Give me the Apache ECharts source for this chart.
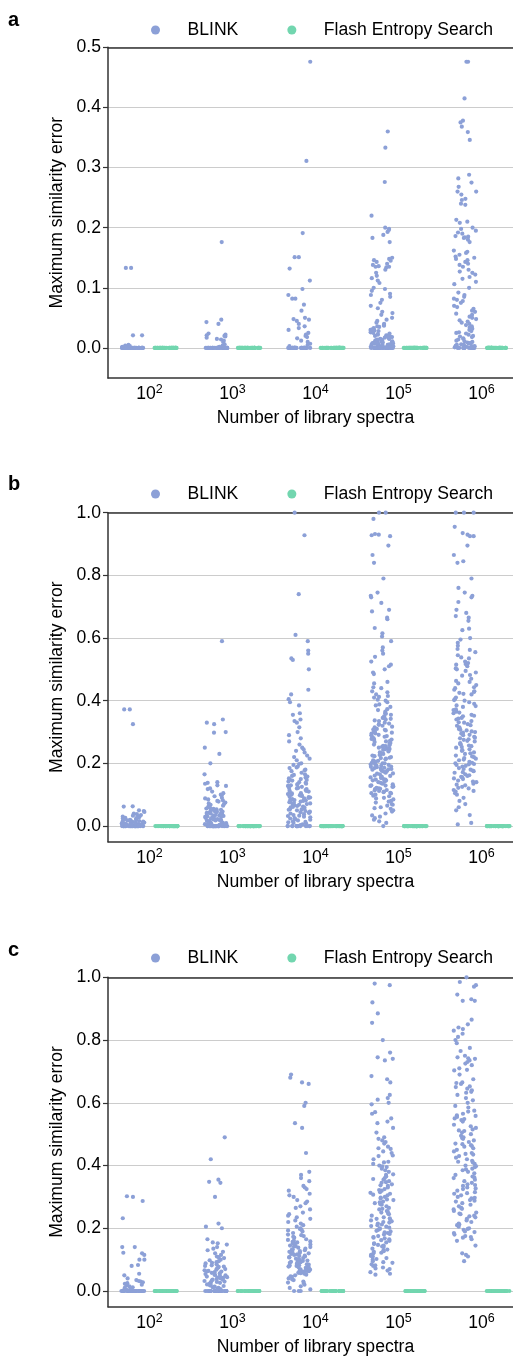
<!DOCTYPE html>
<html>
<head>
<meta charset="utf-8">
<script src="https://cdn.jsdelivr.net/npm/echarts@6.0.0/dist/echarts.min.js"></script>
<style>
html, body { margin: 0; padding: 0; background: #fff; }
#main { width: 513px; height: 1357px; }
</style>
</head>
<body>
<div id="main"></div>
<script>
// categories (library size) and y tick values
var categories = ['10^2', '10^3', '10^4', '10^5', '10^6'];
var ticksA = [0, 0.1, 0.2, 0.3, 0.4, 0.5];
var ticksBC = [0, 0.2, 0.4, 0.6, 0.8, 1.0];

// runs of exact zeros (the solid bars on the 0 line)
var z15 = [0,0,0,0,0,0,0,0,0,0,0,0,0,0,0];
var z30 = [0,0,0,0,0,0,0,0,0,0,0,0,0,0,0,0,0,0,0,0,0,0,0,0,0,0,0,0,0,0];
var z35 = [0,0,0,0,0,0,0,0,0,0,0,0,0,0,0,0,0,0,0,0,0,0,0,0,0,0,0,0,0,0,0,0,0,0,0];

// panel a - BLINK, one list per library size
var blinkA2 = z30.concat([0.133, 0.133, 0.021, 0.021, 0.005, 0.004, 0.003, 0.002]);
var blinkA3 = z30.concat([0.176, 0.047, 0.043, 0.040, 0.024, 0.022, 0.021, 0.020, 0.019, 0.017, 0.015, 0.014, 0.012, 0.010, 0.006, 0.004, 0.002]);
var blinkA4 = z30.concat([0.476, 0.311, 0.191, 0.151, 0.151, 0.132, 0.112, 0.098, 0.088, 0.082, 0.082, 0.072, 0.062, 0.050, 0.048, 0.047,
  0.045, 0.040, 0.036, 0.033, 0.030, 0.025, 0.022, 0.020, 0.018, 0.016, 0.012, 0.010, 0.007, 0.005, 0.003]);
var blinkA5 = z30.concat([0.360, 0.333, 0.276, 0.220, 0.200, 0.198, 0.196, 0.193, 0.188, 0.183, 0.176, 0.150, 0.148, 0.146, 0.145, 0.143,
  0.140, 0.138, 0.136, 0.135, 0.135, 0.134, 0.130, 0.125, 0.120, 0.116, 0.112, 0.108, 0.100, 0.098, 0.095, 0.090, 0.088, 0.085,
  0.080, 0.075, 0.070, 0.066, 0.060, 0.058, 0.055, 0.050, 0.047, 0.045, 0.042, 0.040, 0.038, 0.037, 0.035, 0.033, 0.032, 0.030,
  0.030, 0.028, 0.026, 0.025, 0.024, 0.022, 0.021, 0.020, 0.020, 0.019, 0.018, 0.017, 0.016, 0.015, 0.015, 0.014, 0.013, 0.012,
  0.012, 0.011, 0.010, 0.010, 0.009, 0.009, 0.008, 0.008, 0.007, 0.007, 0.006, 0.006, 0.005, 0.005, 0.005, 0.004, 0.004, 0.004,
  0.003, 0.003, 0.003, 0.002, 0.002, 0.002, 0.001, 0.001, 0.001, 0.036, 0.029, 0.023, 0.018, 0.014, 0.011, 0.008, 0.006, 0.004]);
var blinkA6 = z15.concat([0.476, 0.476, 0.415, 0.378, 0.375, 0.368, 0.359, 0.346, 0.288, 0.282, 0.275, 0.268, 0.260, 0.260, 0.255, 0.248,
  0.246, 0.240, 0.238, 0.213, 0.210, 0.208, 0.200, 0.198, 0.195, 0.192, 0.190, 0.186, 0.185, 0.184, 0.183, 0.180, 0.176, 0.162,
  0.160, 0.158, 0.155, 0.152, 0.150, 0.148, 0.146, 0.143, 0.140, 0.138, 0.135, 0.130, 0.127, 0.125, 0.122, 0.118, 0.115, 0.110,
  0.106, 0.100, 0.092, 0.088, 0.085, 0.082, 0.080, 0.078, 0.075, 0.070, 0.068, 0.065, 0.062, 0.060, 0.057, 0.055, 0.052, 0.050,
  0.048, 0.046, 0.044, 0.042, 0.040, 0.038, 0.036, 0.034, 0.032, 0.030, 0.028, 0.026, 0.025, 0.024, 0.022, 0.020, 0.019, 0.018,
  0.016, 0.015, 0.014, 0.012, 0.011, 0.010, 0.009, 0.008, 0.008, 0.007, 0.006, 0.005, 0.005, 0.004, 0.003, 0.003, 0.002, 0.002, 0.001]);

// panel b - BLINK
var blinkB2 = z30.concat([0.372, 0.372, 0.325, 0.063, 0.062, 0.050, 0.048, 0.045, 0.040, 0.038, 0.035, 0.033, 0.030, 0.030, 0.028, 0.026,
  0.025, 0.024, 0.022, 0.020, 0.020, 0.019, 0.018, 0.017, 0.016, 0.015, 0.014, 0.013, 0.012, 0.011, 0.010, 0.010, 0.009, 0.008,
  0.008, 0.007, 0.006, 0.006, 0.005, 0.005, 0.004, 0.004, 0.003, 0.003, 0.002, 0.002, 0.001]);
var blinkB3 = z30.concat([0.590, 0.340, 0.330, 0.325, 0.300, 0.298, 0.250, 0.230, 0.200, 0.165, 0.140, 0.138, 0.135, 0.130, 0.128, 0.120,
  0.118, 0.110, 0.105, 0.100, 0.098, 0.095, 0.090, 0.088, 0.085, 0.082, 0.080, 0.078, 0.075, 0.072, 0.070, 0.068, 0.065, 0.062,
  0.060, 0.058, 0.056, 0.055, 0.053, 0.052, 0.050, 0.049, 0.048, 0.047, 0.046, 0.045, 0.044, 0.043, 0.042, 0.041, 0.040, 0.039,
  0.038, 0.037, 0.036, 0.035, 0.034, 0.033, 0.032, 0.031, 0.030, 0.029, 0.028, 0.027, 0.026, 0.025, 0.024, 0.022, 0.021, 0.020,
  0.019, 0.018, 0.017, 0.016, 0.015, 0.014, 0.013, 0.012, 0.011, 0.010, 0.009, 0.008, 0.007, 0.006, 0.005, 0.004, 0.003, 0.002]);
var blinkB4 = z15.concat([1.000, 0.928, 0.740, 0.610, 0.590, 0.560, 0.550, 0.535, 0.530, 0.500, 0.435, 0.420, 0.405, 0.395, 0.385, 0.360,
  0.355, 0.340, 0.335, 0.330, 0.315, 0.300, 0.290, 0.280, 0.270, 0.260, 0.250, 0.245, 0.240, 0.235, 0.225, 0.220, 0.215, 0.210,
  0.200, 0.198, 0.195, 0.190, 0.185, 0.180, 0.178, 0.175, 0.170, 0.165, 0.160, 0.158, 0.155, 0.152, 0.150, 0.148, 0.145, 0.142,
  0.140, 0.138, 0.135, 0.132, 0.130, 0.128, 0.125, 0.122, 0.120, 0.118, 0.115, 0.112, 0.110, 0.108, 0.105, 0.102, 0.100, 0.098,
  0.096, 0.094, 0.092, 0.090, 0.088, 0.086, 0.084, 0.082, 0.080, 0.078, 0.076, 0.074, 0.072, 0.070, 0.068, 0.066, 0.064, 0.062,
  0.060, 0.058, 0.056, 0.054, 0.052, 0.050, 0.048, 0.046, 0.044, 0.042, 0.040, 0.038, 0.035, 0.032, 0.030, 0.028, 0.025, 0.022,
  0.020, 0.018, 0.015, 0.012, 0.010, 0.008, 0.005, 0.003,
  0.187, 0.163, 0.147, 0.134, 0.121, 0.113, 0.104, 0.097, 0.091, 0.083, 0.077, 0.069, 0.061, 0.053, 0.043, 0.033, 0.024, 0.013]);
var blinkB5 = [1.000, 1.000, 0.980, 0.932, 0.930, 0.928, 0.925, 0.895, 0.865, 0.840, 0.790, 0.745, 0.735, 0.730, 0.712, 0.690,
  0.685, 0.665, 0.660, 0.632, 0.615, 0.605, 0.590, 0.570, 0.560, 0.550, 0.540, 0.525, 0.515, 0.510, 0.500, 0.490, 0.485, 0.460,
  0.455, 0.440, 0.430, 0.420, 0.415, 0.410, 0.400, 0.395, 0.385, 0.380, 0.370, 0.365, 0.360, 0.355, 0.350, 0.345, 0.340, 0.335,
  0.330, 0.325, 0.320, 0.315, 0.310, 0.305, 0.300, 0.298, 0.295, 0.290, 0.285, 0.280, 0.278, 0.275, 0.270, 0.265, 0.260, 0.258,
  0.255, 0.250, 0.248, 0.245, 0.240, 0.235, 0.230, 0.228, 0.225, 0.220, 0.218, 0.215, 0.210, 0.205, 0.200, 0.200, 0.198, 0.195,
  0.192, 0.190, 0.188, 0.185, 0.182, 0.180, 0.178, 0.175, 0.170, 0.165, 0.160, 0.158, 0.155, 0.150, 0.148, 0.145, 0.140, 0.135,
  0.130, 0.128, 0.125, 0.120, 0.118, 0.115, 0.110, 0.108, 0.105, 0.100, 0.095, 0.090, 0.085, 0.080, 0.075, 0.070, 0.065, 0.060,
  0.055, 0.050, 0.040, 0.030, 0.025, 0.020, 0.015, 0.010, 0.000,
  0.443, 0.427, 0.412, 0.403, 0.388, 0.373, 0.358, 0.343, 0.337, 0.323, 0.308, 0.302, 0.291, 0.283, 0.272, 0.263, 0.253, 0.243,
  0.233, 0.223, 0.213, 0.206, 0.196, 0.189, 0.186, 0.181, 0.172, 0.167, 0.161, 0.153, 0.146, 0.141, 0.133, 0.126, 0.119, 0.112,
  0.104, 0.097, 0.088, 0.078, 0.068, 0.057, 0.046, 0.034, 0.342, 0.327, 0.317, 0.307, 0.296, 0.287, 0.276, 0.268, 0.256, 0.246,
  0.238, 0.227, 0.217, 0.208, 0.202, 0.193, 0.183, 0.176, 0.168, 0.157, 0.148, 0.138, 0.129, 0.122, 0.114, 0.106];
var blinkB6 = [1.000, 1.000, 1.000, 0.955, 0.935, 0.930, 0.925, 0.925, 0.895, 0.865, 0.845, 0.840, 0.790, 0.760, 0.745, 0.735,
  0.730, 0.715, 0.690, 0.680, 0.670, 0.665, 0.655, 0.630, 0.625, 0.600, 0.595, 0.585, 0.575, 0.565, 0.555, 0.545, 0.535, 0.525,
  0.520, 0.515, 0.510, 0.500, 0.495, 0.490, 0.480, 0.470, 0.460, 0.455, 0.450, 0.440, 0.435, 0.430, 0.425, 0.420, 0.410, 0.405,
  0.400, 0.395, 0.390, 0.385, 0.380, 0.370, 0.365, 0.360, 0.355, 0.350, 0.345, 0.340, 0.335, 0.330, 0.325, 0.320, 0.315, 0.310,
  0.305, 0.300, 0.298, 0.295, 0.290, 0.285, 0.280, 0.275, 0.270, 0.265, 0.260, 0.255, 0.250, 0.245, 0.240, 0.235, 0.230, 0.225,
  0.220, 0.215, 0.210, 0.205, 0.200, 0.198, 0.195, 0.190, 0.185, 0.180, 0.175, 0.170, 0.165, 0.160, 0.155, 0.150, 0.145, 0.140,
  0.135, 0.130, 0.125, 0.120, 0.115, 0.110, 0.105, 0.100, 0.090, 0.080, 0.070, 0.060, 0.050, 0.035, 0.010, 0.005,
  0.562, 0.538, 0.517, 0.503, 0.482, 0.463, 0.443, 0.422, 0.402, 0.383, 0.362, 0.343, 0.331, 0.322, 0.312, 0.302, 0.291, 0.282,
  0.272, 0.262, 0.252, 0.242, 0.232, 0.222, 0.212, 0.202, 0.192, 0.182, 0.172, 0.162, 0.152, 0.142, 0.132, 0.122, 0.112, 0.428,
  0.372, 0.352, 0.307, 0.277, 0.257, 0.217, 0.197, 0.177, 0.157];

// panel c - BLINK
var blinkC2 = z30.concat([0.302, 0.300, 0.287, 0.232, 0.140, 0.140, 0.122, 0.120, 0.115, 0.100, 0.100, 0.083, 0.080, 0.055, 0.050, 0.040,
  0.035, 0.032, 0.030, 0.028, 0.025, 0.023, 0.020, 0.018, 0.015, 0.012, 0.010, 0.008, 0.005, 0.003]);
var blinkC3 = z30.concat([0.490, 0.420, 0.355, 0.348, 0.345, 0.300, 0.215, 0.205, 0.200, 0.165, 0.155, 0.152, 0.148, 0.140, 0.135, 0.130,
  0.125, 0.120, 0.115, 0.110, 0.108, 0.105, 0.100, 0.098, 0.095, 0.092, 0.090, 0.088, 0.085, 0.082, 0.080, 0.078, 0.075, 0.072,
  0.070, 0.068, 0.066, 0.064, 0.062, 0.060, 0.058, 0.056, 0.054, 0.052, 0.050, 0.048, 0.046, 0.044, 0.042, 0.040, 0.038, 0.036,
  0.034, 0.032, 0.030, 0.028, 0.026, 0.024, 0.022, 0.020, 0.018, 0.016, 0.014, 0.012, 0.010, 0.008, 0.006, 0.004, 0.002,
  0.077, 0.063, 0.051, 0.043, 0.037, 0.029, 0.021, 0.013]);
var blinkC4 = [0.690, 0.680, 0.665, 0.660, 0.600, 0.590, 0.535, 0.520, 0.440, 0.380, 0.370, 0.360, 0.350, 0.335, 0.330, 0.325,
  0.320, 0.310, 0.305, 0.300, 0.290, 0.285, 0.280, 0.270, 0.265, 0.260, 0.250, 0.245, 0.240, 0.235, 0.230, 0.225, 0.220, 0.215,
  0.210, 0.205, 0.200, 0.198, 0.195, 0.190, 0.185, 0.180, 0.178, 0.175, 0.170, 0.165, 0.160, 0.158, 0.155, 0.152, 0.150, 0.148,
  0.145, 0.142, 0.140, 0.138, 0.135, 0.132, 0.130, 0.128, 0.125, 0.122, 0.120, 0.118, 0.115, 0.112, 0.110, 0.108, 0.105, 0.102,
  0.100, 0.098, 0.096, 0.094, 0.092, 0.090, 0.088, 0.086, 0.084, 0.082, 0.080, 0.078, 0.076, 0.074, 0.072, 0.070, 0.068, 0.066,
  0.064, 0.062, 0.060, 0.058, 0.055, 0.052, 0.050, 0.045, 0.040, 0.035, 0.030, 0.025, 0.020, 0.015, 0.010, 0.005, 0.000, 0.000, 0.000,
  0.193, 0.173, 0.157, 0.143, 0.133, 0.123, 0.113, 0.103, 0.093, 0.087, 0.081, 0.075, 0.069, 0.063, 0.057, 0.047, 0.037, 0.027,
  0.163, 0.127, 0.117, 0.107, 0.097, 0.091, 0.085, 0.079];
var blinkC5 = [0.980, 0.975, 0.920, 0.885, 0.855, 0.800, 0.760, 0.745, 0.740, 0.735, 0.685, 0.675, 0.665, 0.625, 0.615, 0.610,
  0.600, 0.595, 0.570, 0.565, 0.550, 0.540, 0.535, 0.520, 0.505, 0.490, 0.485, 0.480, 0.475, 0.470, 0.460, 0.455, 0.445, 0.440,
  0.430, 0.420, 0.410, 0.405, 0.400, 0.395, 0.390, 0.385, 0.380, 0.370, 0.365, 0.360, 0.355, 0.350, 0.345, 0.340, 0.335, 0.330,
  0.325, 0.320, 0.315, 0.310, 0.305, 0.300, 0.298, 0.295, 0.290, 0.285, 0.280, 0.275, 0.270, 0.265, 0.260, 0.255, 0.250, 0.245,
  0.240, 0.235, 0.230, 0.225, 0.220, 0.218, 0.215, 0.210, 0.205, 0.200, 0.198, 0.195, 0.190, 0.185, 0.180, 0.175, 0.170, 0.165,
  0.160, 0.155, 0.150, 0.145, 0.140, 0.135, 0.130, 0.125, 0.120, 0.115, 0.110, 0.105, 0.100, 0.095, 0.090, 0.085, 0.080, 0.075,
  0.070, 0.065, 0.060, 0.055, 0.052,
  0.453, 0.432, 0.412, 0.397, 0.372, 0.357, 0.337, 0.322, 0.307, 0.292, 0.277, 0.262, 0.247, 0.232, 0.222, 0.212, 0.202, 0.192,
  0.182, 0.172, 0.162, 0.152, 0.142, 0.132, 0.122, 0.112, 0.102, 0.092, 0.082, 0.072, 0.347, 0.313, 0.283, 0.253, 0.227, 0.207,
  0.187, 0.168, 0.147, 0.127];
var blinkC6 = [1.000, 0.985, 0.975, 0.970, 0.945, 0.930, 0.925, 0.925, 0.865, 0.850, 0.840, 0.835, 0.830, 0.820, 0.810, 0.800,
  0.790, 0.775, 0.765, 0.750, 0.745, 0.740, 0.735, 0.730, 0.725, 0.720, 0.710, 0.705, 0.690, 0.675, 0.665, 0.660, 0.650, 0.645,
  0.640, 0.635, 0.625, 0.615, 0.600, 0.590, 0.585, 0.575, 0.565, 0.560, 0.555, 0.550, 0.545, 0.540, 0.530, 0.525, 0.520, 0.515,
  0.510, 0.505, 0.500, 0.495, 0.490, 0.485, 0.480, 0.475, 0.470, 0.465, 0.460, 0.455, 0.450, 0.445, 0.440, 0.435, 0.430, 0.425,
  0.420, 0.415, 0.410, 0.405, 0.400, 0.395, 0.390, 0.385, 0.380, 0.375, 0.370, 0.365, 0.360, 0.355, 0.350, 0.345, 0.340, 0.335,
  0.330, 0.325, 0.320, 0.315, 0.310, 0.305, 0.300, 0.295, 0.290, 0.285, 0.280, 0.275, 0.270, 0.265, 0.260, 0.255, 0.250, 0.245,
  0.240, 0.235, 0.230, 0.225, 0.220, 0.215, 0.210, 0.205, 0.200, 0.195, 0.190, 0.185, 0.180, 0.175, 0.170, 0.165, 0.160, 0.145,
  0.120, 0.115, 0.110, 0.095,
  0.742, 0.703, 0.663, 0.632, 0.608, 0.572, 0.548, 0.512, 0.488, 0.462, 0.437, 0.412, 0.388, 0.362, 0.338, 0.312, 0.288, 0.262,
  0.238, 0.212, 0.188, 0.172, 0.652, 0.558, 0.468, 0.398, 0.327, 0.297, 0.247, 0.198];

// Flash Entropy Search: error is exactly 0 everywhere
var flashA = [z35, z35, z35, z35, z35];
var flashB = [z35, z35, z35, z35, z35];
var flashC = [z35, z35, z35, z35, z35];

var blinkA = [blinkA2, blinkA3, blinkA4, blinkA5, blinkA6];
var blinkB = [blinkB2, blinkB3, blinkB4, blinkB5, blinkB6];
var blinkC = [blinkC2, blinkC3, blinkC4, blinkC5, blinkC6];

var FONT = '"Liberation Sans", Arial, Helvetica, sans-serif';
var BLINK_COLOR = '#8ca0d7';
var FLASH_COLOR = '#72d6af';
var DODGE = 16.6;   // hue offset inside a category (0.2 of band)
var JITTER = 23;

var panels = [
  { label: 'a', top: 47.3, height: 330.7, ticks: ticksA, blink: blinkA, flash: flashA, legendTop: 21, labelY: 20 },
  { label: 'b', top: 512.7, height: 329, ticks: ticksBC, blink: blinkB, flash: flashB, legendTop: 485, labelY: 484 },
  { label: 'c', top: 977.3, height: 329.4, ticks: ticksBC, blink: blinkC, flash: flashC, legendTop: 949, labelY: 950 }
];

function toPoints(groups) {
  var out = [];
  groups.forEach(function (g, i) {
    g.forEach(function (v) { out.push([i, v]); });
  });
  return out;
}

var chart = echarts.init(document.getElementById('main'), null, { renderer: 'canvas' });

var grid = [], xAxis = [], yAxis = [], series = [], legend = [], graphic = [];

panels.forEach(function (p) {
  var gi = grid.length;
  var yMax = p.ticks[p.ticks.length - 1];
  [0, -DODGE, DODGE].forEach(function (shift) {
    grid.push({ left: 108 + shift, top: p.top, width: 415, height: p.height, containLabel: false, outerBoundsMode: 'none' });
  });

  // visible axes
  xAxis.push({
    gridIndex: gi, type: 'category', data: categories, position: 'bottom',
    axisLine: { onZero: false, lineStyle: { color: '#333', width: 1.5 } },
    axisTick: { alignWithLabel: true, length: 5, lineStyle: { color: '#333', width: 1.2 } },
    axisLabel: {
      margin: 5, color: '#000',
      formatter: function (v) { return '{b|10}{s|' + v.split('^')[1] + '}'; },
      rich: {
        b: { fontSize: 17.6, fontFamily: FONT, color: '#000' },
        s: { fontSize: 12.5, fontFamily: FONT, color: '#000', padding: [0, 0, 10, 0] }
      }
    },
    splitLine: { show: false },
    name: 'Number of library spectra', nameLocation: 'middle', nameGap: 31,
    nameTextStyle: { fontSize: 17.6, fontFamily: FONT, color: '#000' }
  });
  xAxis.push({
    gridIndex: gi, type: 'category', data: categories, position: 'top',
    axisLine: { onZero: false, lineStyle: { color: '#333', width: 1.5 } },
    axisTick: { show: false }, axisLabel: { show: false }, splitLine: { show: false }
  });
  // hidden, dodged axes that carry the jittered points
  xAxis.push({ gridIndex: gi + 1, type: 'category', data: categories, show: false, jitter: JITTER });
  xAxis.push({ gridIndex: gi + 2, type: 'category', data: categories, show: false, jitter: JITTER });

  yAxis.push({
    gridIndex: gi, type: 'value', min: -0.05, max: yMax, splitNumber: 5,
    axisLine: { show: true, onZero: false, lineStyle: { color: '#333', width: 1.5 } },
    axisTick: { show: true, length: 5, customValues: p.ticks, lineStyle: { color: '#333', width: 1.2 } },
    axisLabel: {
      customValues: p.ticks, margin: 7, fontSize: 17.6, fontFamily: FONT, color: '#000',
      formatter: function (v) { return v.toFixed(1); }
    },
    splitLine: { show: true, lineStyle: { color: '#cccccc', width: 1.2 } },
    name: 'Maximum similarity error', nameLocation: 'middle', nameGap: 41,
    nameTextStyle: { fontSize: 17.6, fontFamily: FONT, color: '#000' }
  });
  yAxis.push({ gridIndex: gi + 1, type: 'value', min: -0.05, max: yMax, show: false, splitLine: { show: false } });
  yAxis.push({ gridIndex: gi + 2, type: 'value', min: -0.05, max: yMax, show: false, splitLine: { show: false } });

  var xi = xAxis.length - 4, yi = yAxis.length - 3;
  series.push({
    name: 'BLINK', type: 'scatter', xAxisIndex: xi + 2, yAxisIndex: yi + 1,
    data: toPoints(p.blink), symbol: 'circle', symbolSize: 4.2,
    itemStyle: { color: BLINK_COLOR, opacity: 1 }, silent: true, z: 3
  });
  series.push({
    name: 'Flash Entropy Search', type: 'scatter', xAxisIndex: xi + 3, yAxisIndex: yi + 2,
    data: toPoints(p.flash), symbol: 'circle', symbolSize: 4.2,
    itemStyle: { color: FLASH_COLOR, opacity: 1 }, silent: true, z: 3
  });

  legend.push({
    top: p.legendTop, left: 151, padding: 0, itemGap: 49, icon: 'circle',
    itemWidth: 54, itemHeight: 9, selectedMode: false,
    data: ['BLINK', 'Flash Entropy Search'],
    textStyle: { fontSize: 17.6, fontFamily: FONT, color: '#000', padding: [0, 0, 0, 0] }
  });

  graphic.push({
    type: 'text', x: 8, y: p.labelY,
    style: { text: p.label, fontSize: 20, fontWeight: 'bold', fontFamily: FONT, fill: '#000', verticalAlign: 'middle' }
  });
});

chart.setOption({
  animation: false,
  backgroundColor: '#fff',
  grid: grid,
  xAxis: xAxis,
  yAxis: yAxis,
  legend: legend,
  graphic: graphic,
  series: series
});

window.onresize = function () {
  chart.resize();
};
</script>
</body>
</html>
